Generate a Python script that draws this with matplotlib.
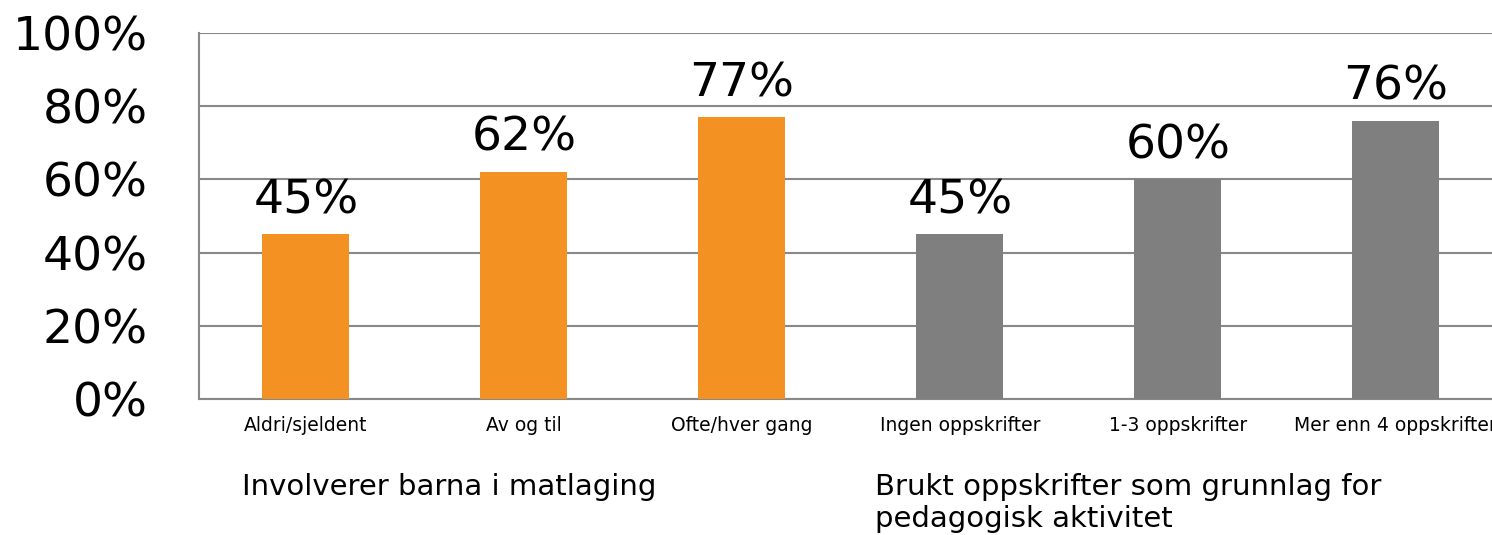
import matplotlib.pyplot as plt
from matplotlib.ticker import FuncFormatter

categories = ["Aldri/sjeldent", "Av og til", "Ofte/hver gang",
              "Ingen oppskrifter", "1-3 oppskrifter", "Mer enn 4 oppskrifter"]
values = [45, 62, 77, 45, 60, 76]
bar_colors = ["#F39222"] * 3 + ["#7F7F7F"] * 3
group_labels = ["Involverer barna i matlaging",
                "Brukt oppskrifter som grunnlag for\npedagogisk aktivitet"]

fig = plt.figure(figsize=(14.92, 5.35), dpi=100)
ax = fig.add_axes([199 / 1492, 136 / 535, 1308 / 1492, 366 / 535])

x = range(len(categories))
bars = ax.bar(x, values, width=0.4, color=bar_colors, zorder=3)
ax.bar_label(bars, labels=[f"{v}%" for v in values], padding=8, fontsize=34)

ax.set_xlim(-0.49, 5.51)
ax.set_ylim(0, 100)
ax.set_yticks(range(0, 101, 20))
ax.yaxis.set_major_formatter(FuncFormatter(lambda v, p: f"{v:.0f}%"))
ax.set_xticks(list(x))
ax.set_xticklabels(categories, fontsize=13.5)

ax.grid(axis="y", color="#888888", linewidth=1.5, zorder=0)
ax.tick_params(axis="y", length=0, pad=37, labelsize=34)
ax.tick_params(axis="x", length=0, pad=12)
for s in ["top", "right"]:
    ax.spines[s].set_visible(False)
for s in ["left", "bottom"]:
    ax.spines[s].set_color("#888888")
    ax.spines[s].set_linewidth(1.5)

# group labels under the category names
fig.text(242 / 1492, 1 - 473 / 535, group_labels[0], fontsize=21, va="top", ha="left")
fig.text(875 / 1492, 1 - 473 / 535, group_labels[1], fontsize=21, va="top", ha="left",
         linespacing=1.2)

fig.savefig("out.png", dpi=100)
